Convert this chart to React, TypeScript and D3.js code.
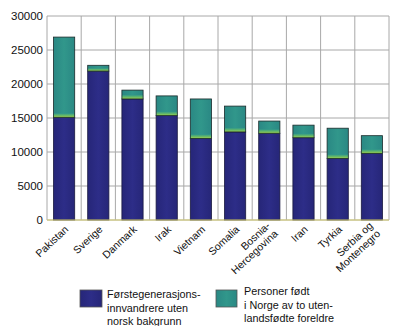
import React from "react";
import * as d3 from "d3";

const categories = ["Pakistan", "Sverige", "Danmark", "Irak", "Vietnam", "Somalia", "Bosnia-Hercegovina", "Iran", "Tyrkia", "Serbia og Montenegro"];
const labelLines = [["Pakistan"], ["Sverige"], ["Danmark"], ["Irak"], ["Vietnam"], ["Somalia"], ["Bosnia-", "Hercegovina"], ["Iran"], ["Tyrkia"], ["Serbia og", "Montenegro"]];
const firstGen = [15100, 21900, 17800, 15350, 12000, 12950, 12750, 12100, 9050, 9800];
const bornInNorway = [11800, 850, 1300, 2900, 5800, 3800, 1800, 1850, 4450, 2600];
const yTicks = [0, 5000, 10000, 15000, 20000, 25000, 30000];
const legendA = ["Førstegenerasjons-", "innvandrere uten", "norsk bakgrunn"];
const legendB = ["Personer født", "i Norge av to uten-", "landsfødte foreldre"];

export default function App() {
  const W = 393, H = 326;
  const left = 47, right = 389, top = 16, bottom = 220;
  const x = d3.scaleBand().domain(categories).range([left, right]).paddingInner(0.38).paddingOuter(0.19);
  const y = d3.scaleLinear().domain([0, 30000]).range([bottom, top]);
  const step = x.step();
  const font = "'Liberation Sans', Arial, sans-serif";
  return (
    <svg width={W} height={H} style={{ position: "absolute", left: 0, top: 0 }} fontFamily={font}>
      <defs>
        <linearGradient id="glow" x1="0" y1="0" x2="0" y2="1">
          <stop offset="0" stopColor="#30988a" />
          <stop offset="0.6" stopColor="#6cbc64" />
          <stop offset="1" stopColor="#a4d04a" />
        </linearGradient>
        <linearGradient id="tealH" x1="0" y1="0" x2="1" y2="0">
          <stop offset="0" stopColor="#2a8884" />
          <stop offset="0.5" stopColor="#31978b" />
          <stop offset="1" stopColor="#2a8884" />
        </linearGradient>
        <linearGradient id="blue" x1="0" y1="0" x2="1" y2="0">
          <stop offset="0" stopColor="#262678" />
          <stop offset="0.5" stopColor="#2d2d88" />
          <stop offset="1" stopColor="#262678" />
        </linearGradient>
      </defs>
      <rect x={0} y={0} width={W} height={H} fill="#fff" />
      {yTicks.map((t) => (
        <line key={"h" + t} x1={left} x2={right} y1={y(t)} y2={y(t)} stroke="#a8a8a8" strokeWidth={1} />
      ))}
      {d3.range(categories.length + 1).map((i) => (
        <line key={"v" + i} x1={left + i * step} x2={left + i * step} y1={top} y2={bottom} stroke="#a8a8a8" strokeWidth={1} />
      ))}
      {categories.map((c, i) => {
        const bx = x(c)!;
        const bw = x.bandwidth();
        const y1 = y(firstGen[i]);
        const y2 = y(firstGen[i] + bornInNorway[i]);
        const g = Math.min(4, (y1 - y2) * 0.5);
        return (
          <g key={c}>
            <rect x={bx} y={y1} width={bw} height={bottom - y1} fill="url(#blue)" stroke="#1a1a40" strokeWidth={0.8} />
            <rect x={bx} y={y2} width={bw} height={y1 - y2} fill="url(#tealH)" />
            <rect x={bx} y={y1 - g} width={bw} height={g} fill="url(#glow)" />
            <rect x={bx} y={y2} width={bw} height={y1 - y2} fill="none" stroke="#1a2a2a" strokeWidth={0.8} />
          </g>
        );
      })}
      <line x1={left} x2={right} y1={bottom} y2={bottom} stroke="#d8d070" strokeWidth={1} />
      {yTicks.map((t) => (
        <text key={"t" + t} x={43} y={y(t) + 4} textAnchor="end" fontSize={11.5} fill="#111">{t}</text>
      ))}
      {categories.map((c, i) => {
        const cx = x(c)! + x.bandwidth() / 2 + 3;
        const lines = labelLines[i];
        return (
          <text key={"l" + c} transform={`translate(${cx},${bottom + 8}) rotate(-43)`} textAnchor="end" fontSize={10.5} fill="#111">
            {lines.map((ln, j) => (
              <tspan key={j} x={0} dy={j === 0 ? (lines.length === 1 ? 3 : -2) : 11}>{ln}</tspan>
            ))}
          </text>
        );
      })}
      <rect x={80} y={290} width={22} height={17} fill="url(#blue)" stroke="#555" strokeWidth={0.8} />
      {legendA.map((t, i) => (
        <text key={"a" + i} x={107} y={298 + i * 13.5} fontSize={10.8} fill="#111">{t}</text>
      ))}
      <rect x={216} y={290} width={21} height={17} fill="url(#tealH)" stroke="#555" strokeWidth={0.8} />
      {legendB.map((t, i) => (
        <text key={"b" + i} x={244} y={295 + i * 13.5} fontSize={10.8} fill="#111">{t}</text>
      ))}
    </svg>
  );
}
